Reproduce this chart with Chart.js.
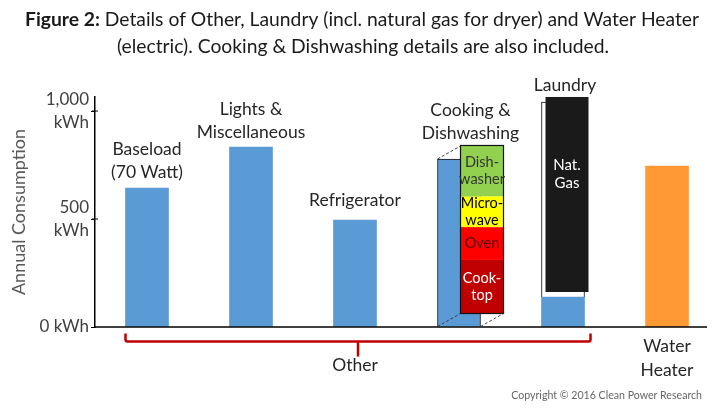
<!DOCTYPE html>
<html><head><meta charset="utf-8">
<script src="https://cdn.jsdelivr.net/npm/chart.js@4/dist/chart.umd.min.js"></script>
<style>html,body{margin:0;padding:0;background:#fff}canvas{display:block}</style>
</head><body>
<canvas id="c" width="720" height="420"></canvas>
<script>
// ---- data ----
const categories = [['Baseload','(70 Watt)'],['Lights &','Miscellaneous'],['Refrigerator'],['Cooking &','Dishwashing'],['Laundry'],['Water','Heater']];
const electricKWh = [643, 833, 495, 778, 139, 745];
const gasKWh = [null, null, null, null, 903, null];
const cookingParts = [['Cook-','top'],['Oven'],['Micro-','wave'],['Dish-','washer']]; // bottom to top
const cookingKWh = [248, 152, 143, 235];
const gasLabel = ['Nat.','Gas'];
const yTicks = [0, 500, 1000];
const yTickLabels = [['0 kWh'], ['500','kWh'], ['1,000','kWh']];
const groupLabel = 'Other';
const groupFirst = 0, groupLast = 4;
const titleBold = 'Figure 2:';
const titleLine1 = ' Details of Other, Laundry (incl. natural gas for dryer) and Water Heater';
const titleLine2 = '(electric). Cooking & Dishwashing details are also included.';
const copyright = 'Copyright \u00A9 2016 Clean Power Research';

// ---- styles ----
const FONT = 'Lato, "Open Sans", sans-serif';
const barColors = ['#5B9BD5','#5B9BD5','#5B9BD5','#5B9BD5','#5B9BD5','#FF9933'];
const partColors = ['#C00000','#FF0000','#FFFF00','#92D050'];
const partText = ['#ffffff','#5a0000','#000000','#333333'];

const custom = {
  id: 'custom',
  afterDatasetsDraw(chart) {
    const ctx = chart.ctx;
    const y = chart.scales.y;
    const area = chart.chartArea;
    const m0 = chart.getDatasetMeta(0).data;
    const m1 = chart.getDatasetMeta(1).data;
    const px = v => y.getPixelForValue(0) - y.getPixelForValue(v);
    ctx.save();
    // baseline
    ctx.strokeStyle = '#000'; ctx.lineWidth = 1.5;
    ctx.beginPath(); ctx.moveTo(area.left, y.getPixelForValue(0)); ctx.lineTo(707, y.getPixelForValue(0)); ctx.stroke();
    // y tick marks crossing the axis
    ctx.lineWidth = 1;
    yTicks.slice(1).forEach(v => { const ty = y.getPixelForValue(v); ctx.beginPath(); ctx.moveTo(area.left - 3, ty); ctx.lineTo(area.left + 3, ty); ctx.stroke(); });

    // cooking detail stack
    const ce = m0[3];
    const w = ce.width, left = ce.x - w/2, right = ce.x + w/2;
    const dx = 23, dy = -13;
    const sx = left + dx;
    let cur = ce.base + dy;
    const segs = [];
    for (let i = 0; i < cookingKWh.length; i++) {
      const h = px(cookingKWh[i]);
      ctx.fillStyle = partColors[i];
      ctx.fillRect(sx, cur - h, w, h);
      segs.push([cur - h, h]);
      cur -= h;
    }
    const stackTop = cur;
    ctx.strokeStyle = '#111'; ctx.lineWidth = 1.2;
    ctx.strokeRect(sx, stackTop, w, ce.base + dy - stackTop);
    ctx.setLineDash([3,2]); ctx.lineWidth = 0.9; ctx.strokeStyle = '#333';
    ctx.beginPath();
    ctx.moveTo(left, ce.y); ctx.lineTo(sx, ce.y + dy);
    ctx.moveTo(left, ce.base); ctx.lineTo(sx, ce.base + dy);
    ctx.moveTo(right, ce.base); ctx.lineTo(sx + w, ce.base + dy);
    ctx.stroke();
    ctx.setLineDash([]);
    ctx.font = '14.5px ' + FONT; ctx.textAlign = 'center'; ctx.textBaseline = 'middle';
    for (let i = 0; i < segs.length; i++) {
      const [t, h] = segs[i];
      const lines = cookingParts[i];
      ctx.fillStyle = partText[i];
      const lh = 17;
      lines.forEach((s, k) => ctx.fillText(s, sx + w/2, t + h/2 + (k - (lines.length-1)/2) * lh));
    }

    // laundry gas black box
    const ge = m1[4];
    const gx = ge.x - ge.width/2 + 4, gy = ge.y - 5, gh = ge.base - ge.y;
    ctx.fillStyle = '#1a1a1a';
    ctx.fillRect(gx, gy, ge.width, gh);
    ctx.fillStyle = '#fff'; ctx.font = '15px ' + FONT;
    gasLabel.forEach((s, k) => ctx.fillText(s, gx + ge.width/2, gy + 68 + k * 18));

    // category labels
    ctx.fillStyle = '#262626'; ctx.font = '17.5px ' + FONT;
    const gaps = [16, 15, 20, 12, 12];
    const tops = [m0[0].y, m0[1].y, m0[2].y, stackTop, gy];
    for (let i = 0; i < 5; i++) {
      const lines = categories[i];
      const cx = i === 3 ? (left + sx + w) / 2 : (i === 4 ? ge.x + 2 : m0[i].x);
      lines.forEach((s, k) => ctx.fillText(s, cx, tops[i] - gaps[i] - (lines.length - 1 - k) * 23));
    }
    const wh = categories[5];
    wh.forEach((s, k) => ctx.fillText(s, m0[5].x, ce.base + 20 + k * 24));

    // Other bracket
    const bl = m0[groupFirst].x - m0[groupFirst].width/2;
    const br = m0[groupLast].x + m0[groupLast].width/2 + 6;
    const by = ce.base + 15;
    const bc = (bl + br) / 2;
    ctx.strokeStyle = '#C00000'; ctx.lineWidth = 2.5; ctx.lineJoin = 'round';
    ctx.beginPath();
    ctx.moveTo(bl, by - 8); ctx.lineTo(bl, by - 2); ctx.quadraticCurveTo(bl, by, bl + 2, by);
    ctx.lineTo(br - 2, by); ctx.quadraticCurveTo(br, by, br, by - 2); ctx.lineTo(br, by - 8);
    ctx.moveTo(bc, by); ctx.lineTo(bc, by + 15);
    ctx.stroke();
    ctx.fillStyle = '#262626';
    ctx.fillText(groupLabel, bc - 3, ce.base + 39);

    // title
    ctx.fillStyle = '#1a1a1a';
    const fb = 'bold 19.3px ' + FONT, fr = '19.3px ' + FONT;
    ctx.font = fb; const wb = ctx.measureText(titleBold).width;
    ctx.font = fr; const w1 = ctx.measureText(titleLine1).width;
    const x0 = 362 - (wb + w1) / 2;
    ctx.textAlign = 'left';
    ctx.font = fb; ctx.fillText(titleBold, x0, 20);
    ctx.font = fr; ctx.fillText(titleLine1, x0 + wb, 20);
    ctx.textAlign = 'center';
    ctx.fillText(titleLine2, 363, 47);

    // copyright
    ctx.textAlign = 'right'; ctx.font = '10.6px ' + FONT; ctx.fillStyle = '#666';
    ctx.fillText(copyright, 702, 396);
    ctx.restore();
  }
};

new Chart(document.getElementById('c'), {
  type: 'bar',
  data: {
    labels: categories.map(c => c.join(' ')),
    datasets: [
      { label: 'Electric', data: electricKWh, backgroundColor: barColors, borderColor: '#111',
        borderWidth: [0,0,0,1,0,0], barThickness: 43, stack: 's' },
      { label: 'Natural gas', data: gasKWh, backgroundColor: '#fff', borderColor: '#111',
        borderWidth: 1, barThickness: 43, stack: 's', borderSkipped: 'bottom' }
    ]
  },
  options: {
    responsive: false, animation: false, devicePixelRatio: 1,
    layout: { padding: { top: 97, bottom: 93, left: 0, right: 1 } },
    plugins: { legend: { display: false }, tooltip: { enabled: false }, title: { display: false } },
    scales: {
      x: { stacked: true, grid: { display: false }, border: { display: false },
           ticks: { display: false }, afterFit(s) { s.height = 0; } },
      y: { stacked: true, min: 0, max: 1065,
           afterBuildTicks(s) { s.ticks = yTicks.map(v => ({ value: v })); },
           ticks: { callback(v) { return yTickLabels[yTicks.indexOf(v)]; },
                    font: { family: FONT, size: 17, lineHeight: 1.3 }, color: '#404040', padding: 2 },
           grid: { drawOnChartArea: false, tickLength: 4, tickColor: '#000', tickWidth: 1 },
           border: { color: '#000', width: 1.5 },
           title: { display: true, text: 'Annual Consumption', color: '#595959',
                    font: { family: FONT, size: 18 }, padding: { top: 8, bottom: 0 } },
           afterFit(s) { s.width = 95; } }
    }
  },
  plugins: [custom]
});
</script>
</body></html>
